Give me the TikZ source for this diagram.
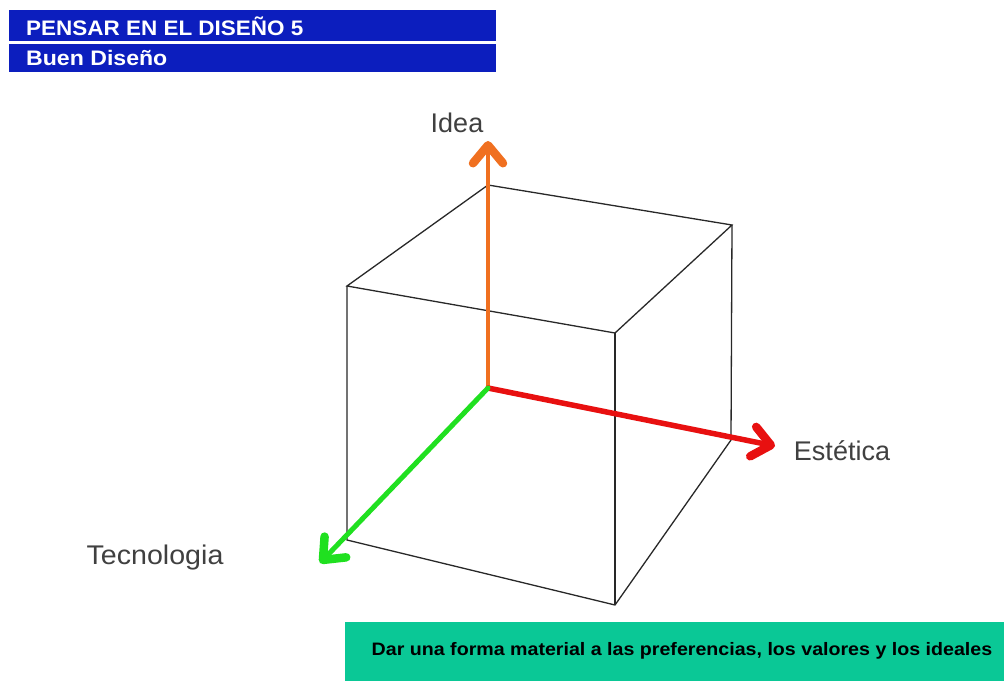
\documentclass[tikz,border=0pt]{standalone}
\usepackage{fontspec}
\setmainfont{Liberation Sans}
\usetikzlibrary{arrows.meta}
\definecolor{hdrblue}{RGB}{12,30,190}
\definecolor{boxgreen}{RGB}{10,200,150}
\definecolor{axorange}{RGB}{240,112,32}
\definecolor{axred}{RGB}{232,16,16}
\definecolor{axgreen}{RGB}{32,224,32}
\definecolor{edgegray}{RGB}{40,40,40}
\definecolor{labgray}{RGB}{64,64,64}
\tikzset{
  hdr/.style={fill=hdrblue, draw=none, text=white, font=\fontsize{21}{21}\selectfont\bfseries, anchor=west, inner sep=0pt},
  edge/.style={draw=edgegray, line width=1.3pt},
  axis/.style={line width=#1, line cap=round, -{Straight Barb[length=18pt,width=30pt,line width=8.5pt,round]}},
  axlab/.style={text=labgray, font=\fontsize{27}{27}\selectfont, inner sep=0pt},
}
\begin{document}
\begin{tikzpicture}[x=1pt,y=-1pt]
\useasboundingbox (0,0) rectangle (1004,681);
% header
\fill[hdrblue] (9,10) rectangle (496,41);
\fill[hdrblue] (9,44) rectangle (496,72);
\node[hdr] (h1) at (26,26) {\scalebox{1.07}[1]{PENSAR EN EL DISEÑO 5}};
\node[hdr] (h2) at (26,58) {\scalebox{1.1}[1]{Buen Diseño}};
% cube vertices
\coordinate (O) at (488,388);
\coordinate (TB) at (488,185);
\coordinate (TR) at (732,225);
\coordinate (TL) at (347,286);
\coordinate (TF) at (615,333);
\coordinate (BL) at (347,540);
\coordinate (BF) at (615,605);
\coordinate (BR) at (731,440);
% axis ends
\coordinate (EI) at (488,141);
\coordinate (EE) at (775,446);
\coordinate (ET) at (320,563);
% cube edges
\draw[edge] (TB) -- (TR) -- (TF) -- (TL) -- cycle;
\draw[edge] (TL) -- (BL) -- (BF) -- (BR) -- (TR);
\draw[edge] (TF) -- (BF);
% axes
\draw[axis=4pt, draw=axorange] (O) -- (EI);
\draw[axis=5.5pt, draw=axred] (O) -- (EE);
\draw[axis=5pt, draw=axgreen] (O) -- (ET);
% labels
\node[axlab] (li) at (457,123) {Idea};
\node[axlab] (le) at (842,451) {Estética};
\node[axlab] (lt) at (155,558) {\scalebox{1.06}[1]{Tecnologia}};
% bottom box
\fill[boxgreen] (345,622) rectangle (1004,681);
\node[font=\fontsize{18}{18}\selectfont\bfseries, inner sep=0pt, anchor=base] (msg) at (682,655) {\scalebox{1.09}[1]{Dar una forma material a las preferencias, los valores y los ideales}};
\end{tikzpicture}
\end{document}
